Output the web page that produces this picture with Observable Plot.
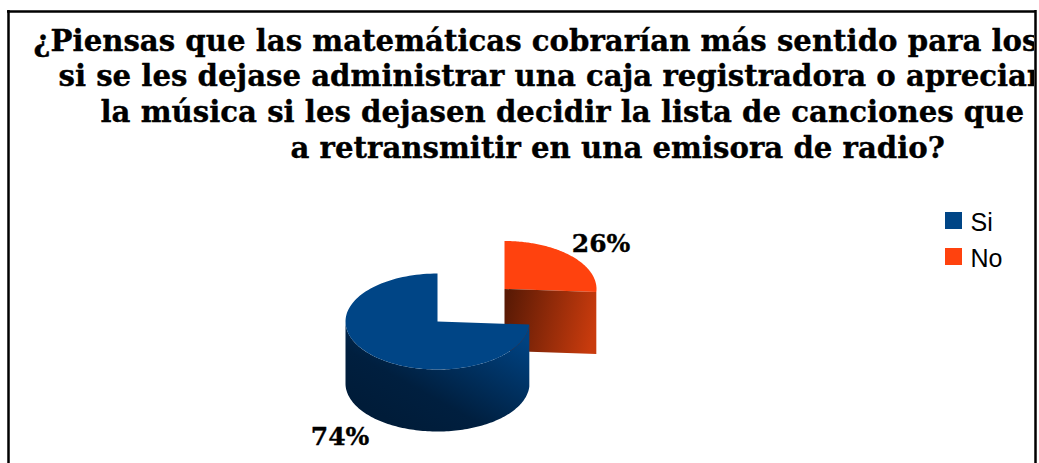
<!DOCTYPE html>
<html>
<head>
<meta charset="utf-8">
<script src="https://cdn.jsdelivr.net/npm/d3@7"></script>
<script src="https://cdn.jsdelivr.net/npm/@observablehq/plot@0.6"></script>
<style>html,body{margin:0;padding:0;background:#fff}svg{display:block}</style>
</head>
<body>
<div id="chart"></div>
<script>
const categories = ["Si", "No"];
const values = [74, 26];
const percentLabels = ["74%", "26%"];
const sliceColors = ["#004586", "#ff420e"];
const titleLines = [
  "¿Piensas que las matemáticas cobrarían más sentido para los alumnos",
  "si se les dejase administrar una caja registradora o apreciar mejor",
  "la música si les dejasen decidir la lista de canciones que se van",
  "a retransmitir en una emisora de radio?"
];
const titleStarts = [33, 58, 100, 290];
const serif = "'DejaVu Serif', serif";

// pie geometry, derived from the values
const rx = 92, ry = 48, depth = 62;
const centers = {Si: [437, 321], No: [504, 288.5]};
const arcs = d3.pie().sort(null).value(d => d)(values.slice().reverse());
const noArc = arcs[0], siArc = arcs[1];
const rim = (c, a) => [c[0] + rx * Math.sin(a), c[1] - ry * Math.cos(a)];
const arcPoints = (c, a0, a1) => d3.range(0, 121).map(i => rim(c, a0 + (a1 - a0) * i / 120));

const cSi = centers.Si, cNo = centers.No;
const noTop = [cNo, ...arcPoints(cNo, noArc.startAngle, noArc.endAngle)];
const noEnd = rim(cNo, noArc.endAngle);
const noFace = [cNo, noEnd, [noEnd[0], noEnd[1] + depth], [cNo[0], cNo[1] + depth]];
const siTop = [cSi, ...arcPoints(cSi, siArc.startAngle, siArc.endAngle)];
const frontArc = arcPoints(cSi, siArc.startAngle, Math.PI * 1.5);
const siSide = [...frontArc, ...frontArc.slice().reverse().map(p => [p[0], p[1] + depth])];

const gradients = () => {
  const svg = d3.create("svg:g");
  const defs = svg.append("defs");
  const add = (id, v, stops) => {
    const g = defs.append("linearGradient").attr("id", id)
      .attr("x1", v[0]).attr("y1", v[1]).attr("x2", v[2]).attr("y2", v[3]);
    stops.forEach(([o, c]) => g.append("stop").attr("offset", o).attr("stop-color", c));
  };
  add("sideSi", [0.3, 0.95, 1, 0.2], [[0, "#001c39"], [0.3, "#001f3f"], [1, "#004281"]]);
  add("faceNo", [0, 0.35, 1, 0.5], [[0, "#5a1a05"], [1, "#c93b0d"]]);
  return svg.node();
};

const poly = (pts, fill) => Plot.line(pts, {x: d => d[0], y: d => d[1], fill, stroke: "none"});

const chart = Plot.plot({
  width: 1039, height: 463,
  marginTop: 0, marginLeft: 0, marginBottom: 0, marginRight: 5,
  x: {domain: [0, 1034], range: [0, 1034], axis: null},
  y: {domain: [0, 463], range: [0, 463], axis: null},
  style: {background: "#fff"},
  marks: [
    gradients,
    Plot.ruleY([11], {x1: 7, x2: 1036, stroke: "#000", strokeWidth: 2.5}),
    Plot.ruleX([8], {y1: 10, y2: 463, stroke: "#000", strokeWidth: 2.5}),
    Plot.ruleX([1035], {y1: 10, y2: 463, stroke: "#000", strokeWidth: 2.5}),
    Plot.text(titleLines, {
      x: (d, i) => titleStarts[i], y: (d, i) => 50 + i * 35.9,
      text: d => d, textAnchor: "start", lineAnchor: "bottom",
      fontFamily: serif, fontWeight: "bold", fontSize: 29.2, fill: "#000",
      stroke: "#000", strokeWidth: 0.35, clip: true
    }),
    poly(noTop, sliceColors[1]),
    poly(noFace, "url(#faceNo)"),
    poly(siSide, "url(#sideSi)"),
    poly(siTop, sliceColors[0]),
    Plot.text(percentLabels, {
      x: (d, i) => [339.5, 600.5][i], y: (d, i) => [444, 251][i], text: d => d,
      textAnchor: "middle", lineAnchor: "bottom",
      fontFamily: serif, fontWeight: "bold", fontSize: 25, fill: "#000",
      stroke: "#000", strokeWidth: 0.35
    }),
    Plot.rect(categories, {
      x1: () => 945, x2: () => 962,
      y1: (d, i) => 212 + i * 36, y2: (d, i) => 229 + i * 36,
      fill: (d, i) => sliceColors[i]
    }),
    Plot.text(categories, {
      x: () => 970, y: (d, i) => 230 + i * 36.5, text: d => d,
      textAnchor: "start", lineAnchor: "bottom",
      fontFamily: "'Liberation Sans', sans-serif", fontSize: 25, fill: "#000"
    })
  ]
});
document.getElementById("chart").append(chart);
</script>
</body>
</html>
